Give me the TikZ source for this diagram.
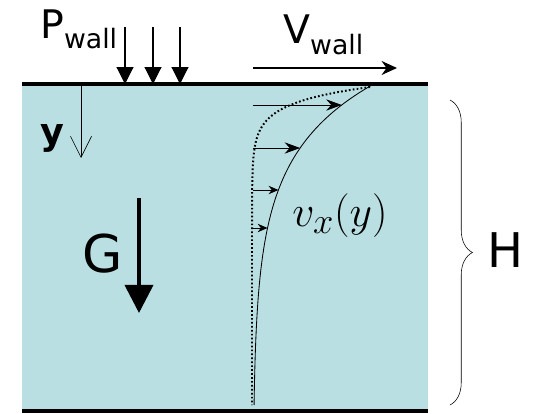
\documentclass[tikz,border=0pt]{standalone}
\usepackage{fontspec}
\setmainfont{DejaVu Sans}
\usepackage{tikz}
\usetikzlibrary{arrows.meta,calc,decorations.pathreplacing}
\definecolor{fluidfill}{RGB}{186,223,227}
\tikzset{
  wall/.style={line width=2.8pt},
  pressarrow/.style={-{Triangle[length=12pt,width=12pt]},thick},
  wallarrow/.style={-{Stealth[length=11pt,width=10pt]},thick},
  velarrow/.style={-{Stealth[length=11pt,width=8pt]},semithick},
  smallvel/.style={-{Stealth[length=7pt,width=6pt]},semithick},
  yarrow/.style={-{Straight Barb[length=15pt,width=15pt]},thin},
  gravarrow/.style={-{Triangle[length=20pt,width=20pt]},line width=2.6pt},
  profile/.style={semithick},
  plugprofile/.style={line width=1.4pt,dash pattern=on 1.2pt off 1.6pt},
  bigtext/.style={font=\fontsize{34}{40}\selectfont,inner sep=0pt},
  walltext/.style={font=\fontsize{28}{32}\selectfont,inner sep=0pt},
  bracebar/.style={decorate,decoration={brace,amplitude=16pt},thin}
}
\newcommand{\wallsub}[1]{\raisebox{-0.5ex}{\fontsize{19}{22}\selectfont #1}}

\begin{document}
\begin{tikzpicture}[x=0.025cm,y=-0.025cm]
  \useasboundingbox (0,0) rectangle (533,414);
  % fluid layer and the two walls
  \fill[fluidfill] (22,84) rectangle (428,411);
  \coordinate (tl) at (22,84);
  \coordinate (tr) at (428,84);
  \coordinate (bl) at (22,411);
  \coordinate (br) at (428,411);
  \draw[wall] (tl) -- (tr);
  \draw[wall] (bl) -- (br);

  % pressure on the wall
  \node[walltext,anchor=base west] (pwall) at (40,38) {P\wallsub{wall}};
  \foreach \px/\pn in {125/1,153/2,180/3}{
    \coordinate (ptop\pn) at (\px,27);
    \coordinate (pbot\pn) at (\px,84);
    \draw[pressarrow] (ptop\pn) -- (pbot\pn);
  }

  % wall velocity
  \node[walltext,anchor=base west] (vwall) at (283,44) {V\wallsub{wall}};
  \coordinate (vstart) at (253,68);
  \coordinate (vend) at (397,68);
  \draw[wallarrow] (vstart) -- (vend);

  % y axis
  \coordinate (ytop) at (81,84);
  \coordinate (ybot) at (81,158);
  \draw[yarrow] (ytop) -- (ybot);
  \node[font=\fontsize{26}{30}\selectfont\bfseries,anchor=base] (ylab) at (52,144) {y};

  % gravity
  \coordinate (gtop) at (139,198);
  \coordinate (gbot) at (139,313);
  \draw[gravarrow] (gtop) -- (gbot);
  \node[bigtext,font=\fontsize{37}{42}\selectfont] (glab) at (103,254) {G};

  % velocity profiles
  \draw[profile] plot[domain=85:405,samples=90] ({253+119*exp(-(\x-85)/68)},\x);
  \draw[plugprofile] plot[domain=87:405,samples=120] ({252+118*exp(-(\x-87)/16)},\x);
  \foreach \vy/\vn in {105/1,148/2}{
    \coordinate (vl\vn) at (253,\vy);
    \coordinate (vr\vn) at ({253+119*exp(-(\vy-85)/68)},\vy);
    \draw[velarrow] (vl\vn) -- (vr\vn);
  }
  \foreach \vy/\vn in {190/3,228/4}{
    \coordinate (vl\vn) at (253,\vy);
    \coordinate (vr\vn) at ({253+119*exp(-(\vy-85)/68)},\vy);
    \draw[smallvel] (vl\vn) -- (vr\vn);
  }
  \node[font=\fontsize{24.88}{30}\selectfont] (vxlab) at (340,216) {\scalebox{1.25}{$v_x(y)$}};

  % gap height
  \coordinate (htop) at (450,100);
  \coordinate (hbot) at (450,405);
  \draw[bracebar] (htop) -- (hbot);
  \node[bigtext] (hlab) at (505,250) {H};
\end{tikzpicture}
\end{document}
